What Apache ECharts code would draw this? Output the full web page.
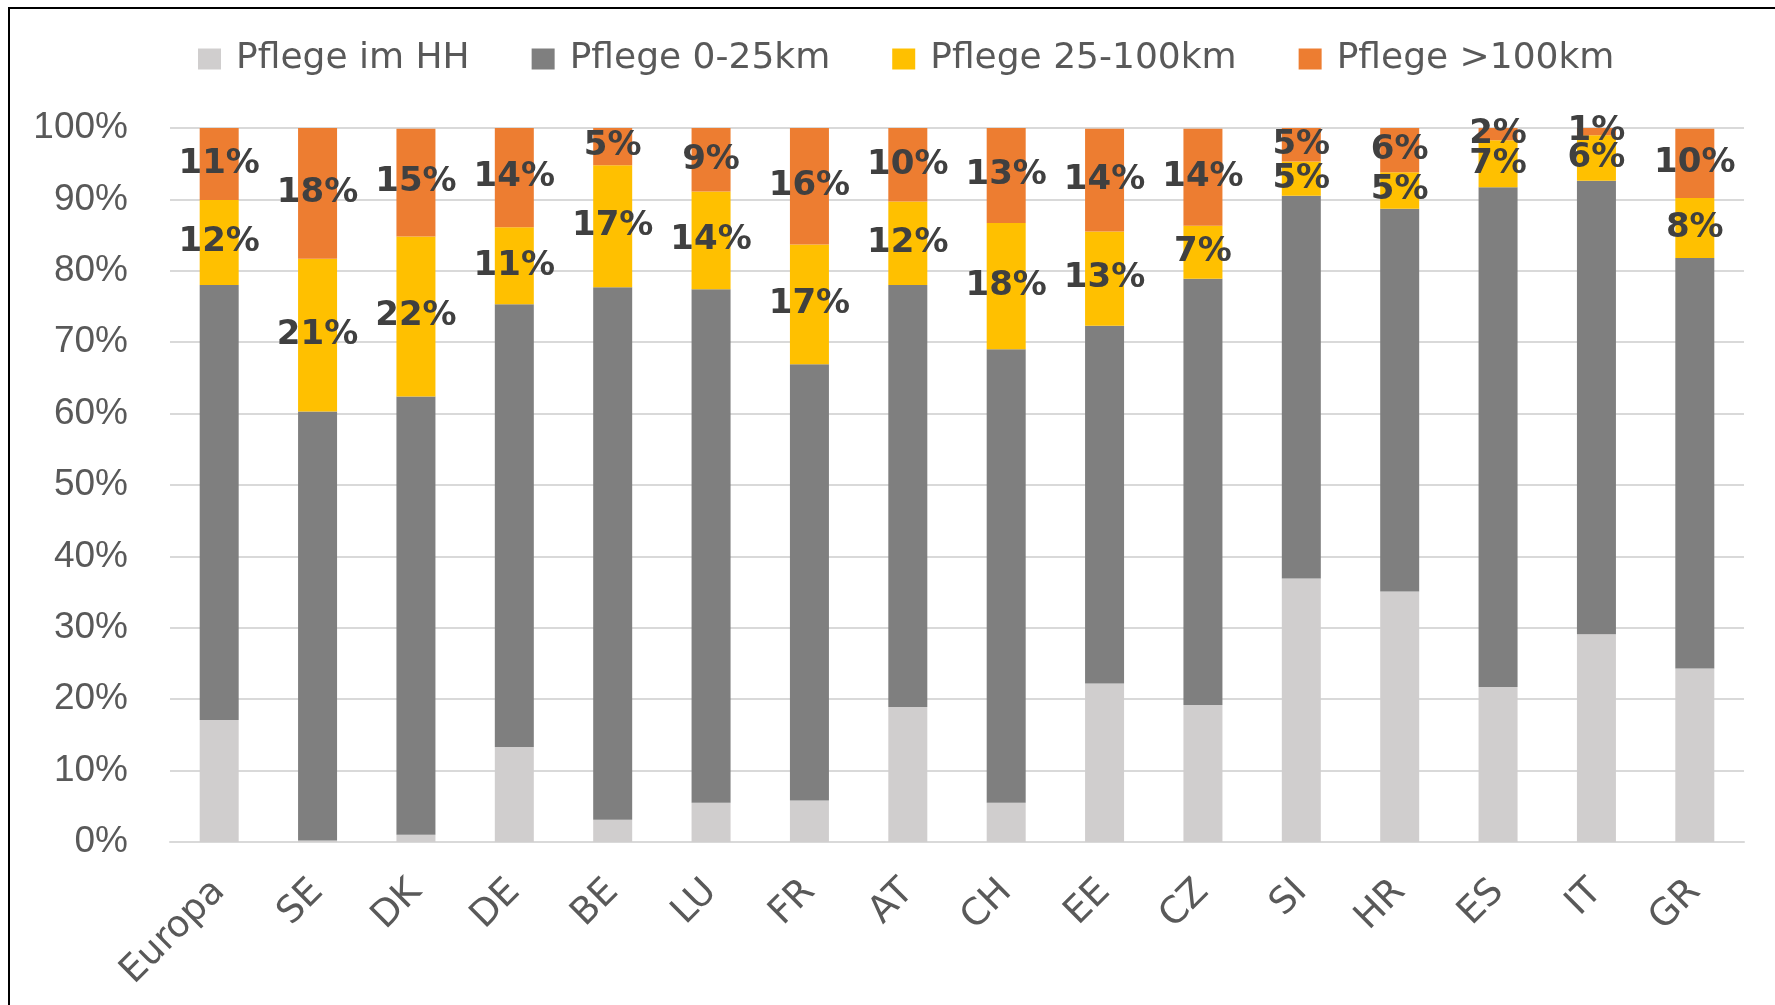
<!DOCTYPE html>
<html>
<head>
<meta charset="utf-8">
<script src="https://cdn.jsdelivr.net/npm/echarts@6/dist/echarts.min.js"></script>
<style>
html,body{margin:0;padding:0;background:#fff;}
#c{width:1775px;height:1005px;}
</style>
</head>
<body>
<div id="c"></div>
<script>
const categories = ['Europa','SE','DK','DE','BE','LU','FR','AT','CH','EE','CZ','SI','HR','ES','IT','GR'];
const seriesNames = ['Pflege im HH','Pflege 0-25km','Pflege 25-100km','Pflege >100km'];
const pflegeHH     = [17.1, 0.2, 1.0, 13.3, 3.1, 5.5, 5.8, 18.9, 5.5, 22.2, 19.2, 36.9, 35.1, 21.7, 29.1, 24.3];
const pflege0_25   = [60.9, 60.1, 61.4, 62.0, 74.6, 71.9, 61.1, 59.1, 63.5, 50.1, 59.7, 53.6, 53.6, 70.0, 63.5, 57.5];
const pflege25_100 = [11.9, 21.4, 22.4, 10.8, 17.1, 13.7, 16.8, 11.7, 17.7, 13.2, 7.4, 4.8, 5.1, 6.6, 6.4, 8.4];
const pflege100    = [10.6, 18.3, 15.1, 13.9, 5.2, 8.9, 16.3, 10.3, 13.3, 14.4, 13.6, 4.7, 6.2, 1.7, 1.0, 9.7];
const yTicks = [0,10,20,30,40,50,60,70,80,90,100];

const colors = ['#D0CECE','#7F7F7F','#FFC000','#ED7D31'];
const dataSets = [pflegeHH, pflege0_25, pflege25_100, pflege100];
const showLabel = [false, false, true, true];

const chart = echarts.init(document.getElementById('c'), null, {renderer:'canvas'});
chart.setOption({
  animation: false,
  backgroundColor: '#fff',
  color: colors,
  graphic: [{
    type: 'rect',
    shape: {x: 9, y: 8, width: 1800, height: 1100},
    style: {fill: 'none', stroke: '#000', lineWidth: 2},
    silent: true, z: 100
  }],
  legend: {
    left: 193, top: 36,
    itemWidth: 23, itemHeight: 21, itemGap: 62,
    icon: 'rect',
    textStyle: {fontFamily: 'DejaVu Sans', fontSize: 36, color: '#595959', padding: [0,0,0,10]},
    data: seriesNames
  },
  grid: {left: 170, right: 31, top: 128, bottom: 163, containLabel: false},
  xAxis: {
    type: 'category',
    data: categories,
    axisLine: {lineStyle: {color: '#D9D9D9', width: 2}},
    axisTick: {show: false},
    axisLabel: {rotate: 45, margin: 44, fontFamily: 'DejaVu Sans', fontSize: 37, color: '#595959', interval: 0}
  },
  yAxis: {
    type: 'value', min: 0, max: 100, interval: 10,
    axisLine: {show: false}, axisTick: {show: false},
    splitLine: {lineStyle: {color: '#D9D9D9', width: 2}},
    axisLabel: {margin: 42, fontFamily: 'Liberation Sans', fontSize: 37, color: '#595959', formatter: v => v + '%'}
  },
  series: seriesNames.map((n, i) => ({
    name: n, type: 'bar', stack: 'total', barWidth: 39,
    data: dataSets[i],
    itemStyle: {color: colors[i]},
    label: {
      show: showLabel[i], position: 'inside',
      fontFamily: 'DejaVu Sans', fontWeight: 'bold', fontSize: 34, color: '#404040',
      formatter: p => Math.round(p.value) + '%'
    }
  }))
});
</script>
</body>
</html>
